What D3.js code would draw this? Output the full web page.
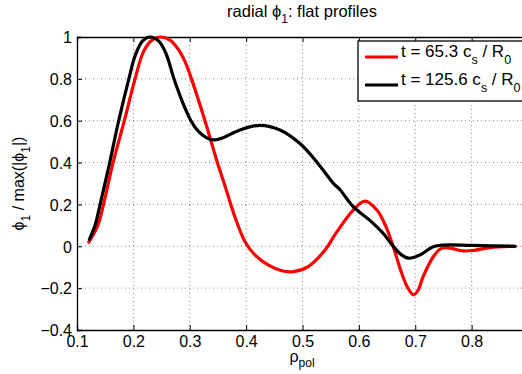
<!DOCTYPE html>
<html><head><meta charset="utf-8">
<script src="https://cdn.jsdelivr.net/npm/d3@7"></script>
<style>
html,body{margin:0;padding:0;background:#fff;overflow:hidden}
text{font-family:"Liberation Sans",Arial,Helvetica,sans-serif;fill:#000}
</style></head>
<body><svg id="c" width="522" height="374"></svg>
<script>
// ---- data ----
const rhoRed = [0.121,0.137,0.147,0.164,0.184,0.203,0.218,0.233,0.249,0.265,0.280,0.292,0.303,0.327,0.349,0.363,0.380,0.398,0.416,0.439,0.463,0.484,0.510,0.540,0.560,0.590,0.611,0.632,0.648,0.661,0.676,0.687,0.697,0.705,0.714,0.732,0.744,0.756,0.785,0.803,0.833,0.877];
const phiRed = [0.02,0.10,0.20,0.40,0.60,0.80,0.93,0.985,1.0,0.985,0.94,0.88,0.80,0.60,0.40,0.285,0.141,0.022,-0.042,-0.089,-0.117,-0.121,-0.097,-0.018,0.065,0.173,0.216,0.173,0.094,-0.002,-0.129,-0.20,-0.232,-0.21,-0.145,-0.05,-0.013,-0.006,-0.022,-0.02,-0.006,0.0];
const rhoBlack = [0.122,0.132,0.141,0.158,0.174,0.192,0.203,0.216,0.229,0.245,0.258,0.272,0.287,0.302,0.315,0.330,0.343,0.360,0.389,0.425,0.460,0.496,0.525,0.555,0.567,0.590,0.622,0.643,0.661,0.675,0.688,0.708,0.732,0.750,0.800,0.877];
const phiBlack = [0.033,0.10,0.20,0.40,0.60,0.80,0.91,0.98,1.0,0.98,0.92,0.80,0.69,0.60,0.55,0.518,0.508,0.52,0.556,0.578,0.556,0.49,0.404,0.30,0.269,0.189,0.118,0.062,0.0,-0.04,-0.057,-0.042,-0.002,0.006,0.004,0.0];
const xTicks = [0.1,0.2,0.3,0.4,0.5,0.6,0.7,0.8];
const yTicks = [-0.4,-0.2,0,0.2,0.4,0.6,0.8,1];
const seriesNames = ["t = 65.3 c", "t = 125.6 c"];
const seriesColors = ["#ff0000", "#000000"];

// ---- layout ----
const svg = d3.select("#c");
const L = 77, R = 528, T = 37, B = 330;
const x = d3.scaleLinear().domain([0.1, 0.9]).range([L, R]);
const y = d3.scaleLinear().domain([-0.4, 1]).range([B, T]);
const fmt = v => (v < 0 ? "\u2212" : "") + (Math.abs(v) === 1 || v === 0 ? String(Math.abs(v)) : Math.abs(v).toFixed(1));

// grid
const g = svg.append("g");
g.selectAll(".vg").data(xTicks.slice(1)).enter().append("line")
  .attr("x1", d => x(d)).attr("x2", d => x(d)).attr("y1", T).attr("y2", B)
  .attr("stroke", "#8a8a8a").attr("stroke-width", 1).attr("stroke-dasharray", "1,3");
g.selectAll(".hg").data(yTicks.slice(1, -1)).enter().append("line")
  .attr("x1", L).attr("x2", R).attr("y1", d => y(d)).attr("y2", d => y(d))
  .attr("stroke", "#8a8a8a").attr("stroke-width", 1).attr("stroke-dasharray", "1,3");

// axes using d3 axis
const xAxisB = d3.axisBottom(x).tickValues(xTicks).tickSize(-5).tickFormat(fmt).tickPadding(7);
const xAxisT = d3.axisTop(x).tickValues(xTicks).tickSize(-5).tickFormat("");
const yAxisL = d3.axisLeft(y).tickValues(yTicks).tickSize(-5).tickFormat(fmt).tickPadding(9);
const gb = svg.append("g").attr("transform", `translate(0,${B})`).call(xAxisB);
const gt = svg.append("g").attr("transform", `translate(0,${T})`).call(xAxisT);
const gl = svg.append("g").attr("transform", `translate(${L},0)`).call(yAxisL);
[gb, gt, gl].forEach(a => {
  a.select(".domain").attr("stroke", "#000").attr("stroke-width", 1.3);
  a.selectAll(".tick line").attr("stroke", "#000").attr("stroke-width", 1);
  a.selectAll(".tick text").style("font-size", "16px").attr("fill", "#000")
   .style("font-family", '"Liberation Sans",Arial,sans-serif');
});
gb.selectAll(".tick text").attr("dy", "0.6em");
gl.selectAll(".tick text").attr("x", -5).attr("dy", "0.36em");

// lines
const line = d3.line().x(d => x(d[0])).y(d => y(d[1])).curve(d3.curveCatmullRom.alpha(0.5));
const series = [d3.zip(rhoRed, phiRed), d3.zip(rhoBlack, phiBlack)];
svg.selectAll(".s").data(series).enter().append("path")
  .attr("d", line).attr("fill", "none")
  .attr("stroke", (d, i) => seriesColors[i]).attr("stroke-width", 3.2)
  .attr("stroke-linejoin", "round").attr("stroke-linecap", "round");

// legend
const lg = svg.append("g");
lg.append("rect").attr("x", 358).attr("y", 41).attr("width", 175).attr("height", 60)
  .attr("fill", "#fff").attr("stroke", "#000").attr("stroke-width", 1.3);
seriesNames.forEach((name, i) => {
  const yy = 57 + i * 28;
  lg.append("line").attr("x1", 365).attr("x2", 398).attr("y1", yy).attr("y2", yy)
    .attr("stroke", seriesColors[i]).attr("stroke-width", 3.2);
  const t = lg.append("text").attr("x", 401).attr("y", yy).style("font-size", "17px");
  t.append("tspan").text(name);
  t.append("tspan").text("s").attr("dy", 7).style("font-size", "12.5px");
  t.append("tspan").text(" / R").attr("dy", -7);
  t.append("tspan").text("0").attr("dy", 7).style("font-size", "12.5px");
});

// title
const tt = svg.append("text").attr("x", 302).attr("y", 17).attr("text-anchor", "middle").style("font-size", "16.5px");
tt.append("tspan").text("radial \u03D5");
tt.append("tspan").text("1").attr("dy", 6).style("font-size", "12px");
tt.append("tspan").text(": flat profiles").attr("dy", -6);

// x label
const xl = svg.append("text").attr("x", 302).attr("y", 362).attr("text-anchor", "middle").style("font-size", "16px");
xl.append("tspan").text("\u03C1");
xl.append("tspan").text("pol").attr("dy", 5).style("font-size", "12px");

// y label
const yl = svg.append("text").attr("transform", `translate(24,${(T + B) / 2}) rotate(-90)`)
  .attr("text-anchor", "middle").style("font-size", "16px");
yl.append("tspan").text("\u03D5");
yl.append("tspan").text("1").attr("dy", 6).style("font-size", "12px");
yl.append("tspan").text(" / max(|\u03D5").attr("dy", -6);
yl.append("tspan").text("1").attr("dy", 6).style("font-size", "12px");
yl.append("tspan").text("|)").attr("dy", -6);
</script></body></html>
